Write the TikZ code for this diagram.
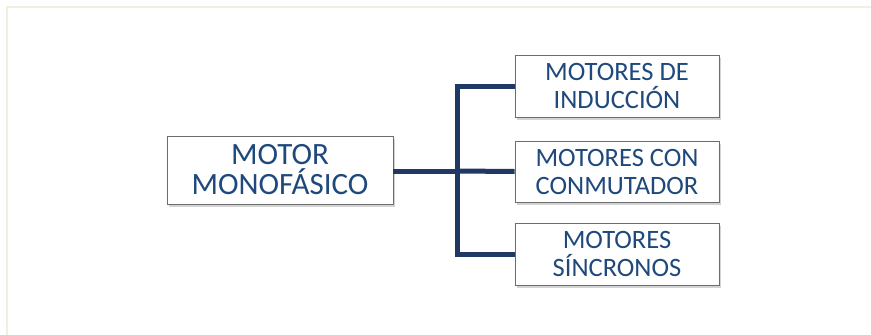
\documentclass[tikz,border=0pt]{standalone}
\usepackage{fontspec}
\setmainfont{Carlito}
\usetikzlibrary{shadows}
\definecolor{txtblue}{HTML}{1F497D}
\definecolor{linenavy}{HTML}{1F3864}
\definecolor{framec}{HTML}{EEF0E2}
\begin{document}
\begin{tikzpicture}[x=1pt,y=-1pt,
  box/.style={draw=gray!85!black, line width=0.8pt, fill=white, text=txtblue,
    align=center, inner sep=0pt,
    drop shadow={opacity=0.35, shadow xshift=1.5pt, shadow yshift=-2.5pt}},
  conn/.style={draw=linenavy, line width=5pt}]
\useasboundingbox (0,0) rectangle (871,335);
\draw[framec, line width=2pt] (7,340) -- (7,7) -- (880,7);
\node[box, minimum width=226pt, minimum height=68pt, font=\fontsize{31}{30}\selectfont] (main) at (280,170) {MOTOR\\MONOFÁSICO};
\node[box, minimum width=204pt, minimum height=62pt, font=\fontsize{26.5}{28}\selectfont] (b1) at (617,86) {MOTORES DE\\INDUCCIÓN};
\node[box, minimum width=204pt, minimum height=61pt, font=\fontsize{26.5}{28}\selectfont] (b2) at (617,171.5) {MOTORES CON\\CONMUTADOR};
\node[box, minimum width=204pt, minimum height=62pt, font=\fontsize{26.5}{28}\selectfont] (b3) at (617,254) {MOTORES\\SÍNCRONOS};
\coordinate (j) at (457,171);
\draw[conn] (main.east |- j) -- (j);
\draw[conn] (b1.west) -| (j) |- (b3.west);
\draw[conn] (j) -- (b2.west);
\end{tikzpicture}
\end{document}
